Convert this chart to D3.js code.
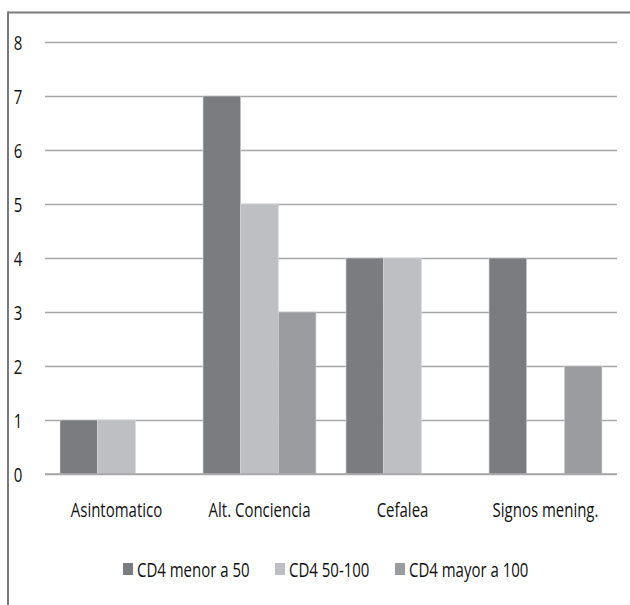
<!DOCTYPE html>
<html>
<head>
<meta charset="utf-8">
<script src="https://cdn.jsdelivr.net/npm/d3@7"></script>
<style>
  html, body { margin: 0; padding: 0; background: #fff; }
  svg text { font-family: "Open Sans", "Liberation Sans", sans-serif; fill: #111; }
</style>
</head>
<body>
<svg id="chart" width="630" height="605"></svg>
<script>
// Síntomas por rango de CD4
const categories = ["Asintomatico", "Alt. Conciencia", "Cefalea", "Signos mening."];
const seriesNames = ["CD4 menor a 50", "CD4 50-100", "CD4 mayor a 100"];
const menor50 = [1, 7, 4, 4];
const de50a100 = [1, 5, 4, 0];
const mayor100 = [0, 3, 0, 2];
const yTicks = [0, 1, 2, 3, 4, 5, 6, 7, 8];
const colors = ["#7b7c80", "#bebfc3", "#9b9ca0"];

const seriesValues = [menor50, de50a100, mayor100];
const fontSize = 20;
const narrow = 0.75; // horizontal squeeze for a condensed look

const svg = d3.select("#chart");

// Frame (top and left edges)
svg.append("line").attr("x1", 8).attr("x2", 630).attr("y1", 12.5).attr("y2", 12.5)
  .attr("stroke", "#7a7a7a").attr("stroke-width", 2);
svg.append("line").attr("x1", 8).attr("x2", 8).attr("y1", 11.5).attr("y2", 605)
  .attr("stroke", "#7a7a7a").attr("stroke-width", 2);

const x0 = d3.scaleBand().domain(categories).range([45, 617]).paddingInner(0.21).paddingOuter(0.105);
const x1 = d3.scaleBand().domain(seriesNames).range([0, x0.bandwidth()]).padding(0);
const y = d3.scaleLinear().domain([0, 8]).range([474, 42]);

// Gridlines
const grid = svg.append("g")
  .attr("transform", "translate(45,0)")
  .call(d3.axisLeft(y).tickValues(yTicks).tickSize(-572).tickFormat(""));
grid.select(".domain").remove();
grid.selectAll("line").attr("stroke", "#a6a6a8").attr("stroke-width", 1.6);

// Y tick labels
const yAxis = svg.append("g")
  .attr("transform", "translate(18,0)")
  .call(d3.axisLeft(y).tickValues(yTicks).tickSize(0).tickPadding(0).tickFormat(d3.format("d")));
yAxis.select(".domain").remove();
yAxis.selectAll("text")
  .attr("font-size", fontSize)
  .attr("text-anchor", "middle")
  .attr("x", 0)
  .attr("dy", "0.36em")
  .attr("transform", `scale(${narrow},1)`);

// Bars
const groups = svg.append("g").selectAll("g")
  .data(categories)
  .join("g")
  .attr("transform", d => `translate(${x0(d)},0)`);

groups.selectAll("rect")
  .data((c, i) => seriesNames.map((s, j) => ({ s, j, v: seriesValues[j][i] })))
  .join("rect")
  .filter(d => d.v > 0)
  .attr("x", d => x1(d.s))
  .attr("width", x1.bandwidth())
  .attr("y", d => y(d.v))
  .attr("height", d => y(0) - y(d.v))
  .attr("fill", d => colors[d.j])
  .attr("stroke", "#d8d8da")
  .attr("stroke-width", 0.6);

// Baseline drawn over bars
svg.append("line").attr("x1", 45).attr("x2", 617).attr("y1", y(0)).attr("y2", y(0))
  .attr("stroke", "#a6a6a8").attr("stroke-width", 1.6);

// Category labels
const xAxis = svg.append("g")
  .attr("transform", "translate(0,474)")
  .call(d3.axisBottom(x0).tickSize(0).tickPadding(0));
xAxis.select(".domain").remove();
xAxis.selectAll("text")
  .attr("font-size", fontSize)
  .attr("dy", 0)
  .attr("y", 43)
  .attr("transform", `scale(${narrow},1)`);

// Legend
const legendX = [123, 275, 395];
const legend = svg.append("g").selectAll("g")
  .data(seriesNames)
  .join("g")
  .attr("transform", (d, i) => `translate(${legendX[i]},0)`);
legend.append("rect")
  .attr("x", 0).attr("y", 563).attr("width", 10).attr("height", 12)
  .attr("fill", (d, i) => colors[i]);
legend.append("text")
  .attr("x", 14 / narrow).attr("y", 577)
  .attr("font-size", fontSize)
  .attr("transform", `scale(${narrow},1)`)
  .text(d => d);
</script>
</body>
</html>
